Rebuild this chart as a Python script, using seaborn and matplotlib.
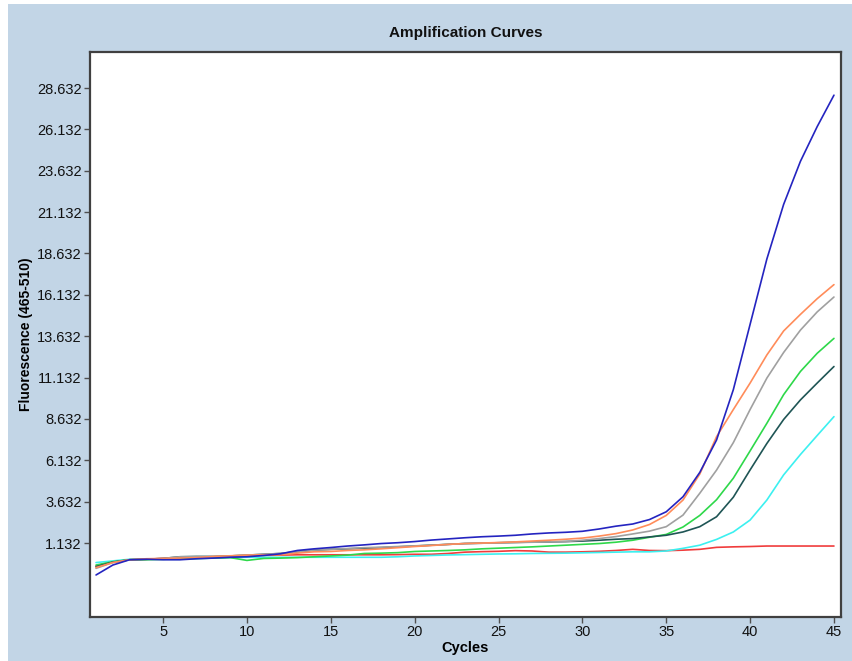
import numpy as np
import pandas as pd
import matplotlib
matplotlib.use("Agg")
import matplotlib.pyplot as plt
import seaborn as sns
from matplotlib.patches import Rectangle
from matplotlib.ticker import FixedLocator

cycles = list(range(1, 46))

blue = [-0.80, -0.20, 0.12, 0.15, 0.12, 0.12, 0.18, 0.22, 0.27, 0.30,
        0.38, 0.48, 0.68, 0.78, 0.86, 0.95, 1.02, 1.10, 1.15, 1.22,
        1.31, 1.38, 1.45, 1.51, 1.55, 1.60, 1.68, 1.74, 1.78, 1.84,
        1.98, 2.15, 2.28, 2.55, 3.02, 3.93, 5.40, 7.36, 10.40, 14.35,
        18.30, 21.60, 24.20, 26.30, 28.20]
orange = [-0.35, -0.05, 0.12, 0.18, 0.20, 0.22, 0.25, 0.32, 0.36, 0.40,
          0.42, 0.42, 0.52, 0.60, 0.62, 0.68, 0.72, 0.78, 0.85, 0.92,
          0.98, 1.05, 1.10, 1.13, 1.16, 1.20, 1.25, 1.30, 1.36, 1.43,
          1.55, 1.70, 1.92, 2.25, 2.80, 3.73, 5.30, 7.56, 9.20, 10.80,
          12.50, 13.95, 14.95, 15.90, 16.75]
gray = [-0.40, -0.05, 0.12, 0.15, 0.20, 0.30, 0.30, 0.30, 0.35, 0.40,
        0.45, 0.50, 0.60, 0.70, 0.75, 0.80, 0.85, 0.88, 0.92, 0.96,
        1.00, 1.05, 1.10, 1.12, 1.14, 1.16, 1.18, 1.20, 1.22, 1.30,
        1.40, 1.52, 1.68, 1.85, 2.12, 2.82, 4.14, 5.54, 7.20, 9.20,
        11.10, 12.65, 14.00, 15.10, 16.00]
darkgreen = [-0.30, -0.02, 0.12, 0.15, 0.20, 0.30, 0.32, 0.32, 0.35, 0.40,
             0.45, 0.50, 0.60, 0.70, 0.75, 0.78, 0.82, 0.85, 0.90, 0.95,
             1.00, 1.05, 1.10, 1.12, 1.15, 1.17, 1.19, 1.20, 1.22, 1.25,
             1.30, 1.36, 1.40, 1.50, 1.60, 1.80, 2.12, 2.72, 3.90, 5.55,
             7.15, 8.60, 9.78, 10.80, 11.80]
green = [-0.20, 0.00, 0.12, 0.12, 0.15, 0.18, 0.20, 0.22, 0.25, 0.08,
         0.20, 0.22, 0.25, 0.30, 0.35, 0.40, 0.50, 0.52, 0.55, 0.62,
         0.65, 0.68, 0.72, 0.78, 0.82, 0.86, 0.90, 0.95, 1.00, 1.05,
         1.10, 1.18, 1.30, 1.48, 1.65, 2.10, 2.80, 3.75, 5.05, 6.70,
         8.37, 10.10, 11.50, 12.60, 13.50]
cyan = [-0.05, 0.05, 0.15, 0.15, 0.15, 0.15, 0.20, 0.22, 0.25, 0.27,
        0.27, 0.27, 0.27, 0.27, 0.27, 0.27, 0.27, 0.27, 0.30, 0.35,
        0.38, 0.41, 0.43, 0.45, 0.47, 0.48, 0.50, 0.51, 0.52, 0.54,
        0.56, 0.58, 0.60, 0.60, 0.65, 0.81, 1.00, 1.35, 1.80, 2.52,
        3.73, 5.25, 6.48, 7.63, 8.77]
red = [-0.25, 0.00, 0.12, 0.15, 0.20, 0.22, 0.25, 0.28, 0.30, 0.35,
       0.38, 0.40, 0.42, 0.42, 0.42, 0.42, 0.42, 0.42, 0.43, 0.45,
       0.45, 0.50, 0.58, 0.61, 0.63, 0.67, 0.65, 0.58, 0.58, 0.60,
       0.63, 0.68, 0.75, 0.68, 0.67, 0.70, 0.75, 0.87, 0.90, 0.92,
       0.95, 0.95, 0.95, 0.95, 0.95]

series = {"red": red, "cyan": cyan, "green": green, "darkgreen": darkgreen,
          "gray": gray, "orange": orange, "blue": blue}
colors = {"red": "#f03c3c", "cyan": "#3cf0f0", "green": "#2ed84a",
          "darkgreen": "#1f5555", "gray": "#a0a0a0", "orange": "#ff8c5a",
          "blue": "#2424c0"}

y_ticks = [1.132, 3.632, 6.132, 8.632, 11.132, 13.632, 16.132, 18.632,
           21.132, 23.632, 26.132, 28.632]
x_ticks = [5, 10, 15, 20, 25, 30, 35, 40, 45]

df = pd.concat([pd.DataFrame({"Cycle": cycles, "Fluorescence": v, "Sample": k})
                for k, v in series.items()], ignore_index=True)

sns.set_style("white")
plt.rcParams["font.family"] = ["Liberation Sans", "DejaVu Sans"]
plt.rcParams["text.color"] = "#000000"
plt.rcParams["axes.labelcolor"] = "#000000"

bg = "#c2d5e6"
fig = plt.figure(figsize=(8.52, 6.61), dpi=100, facecolor=bg)
fig.patches.append(Rectangle((0, 0), 8 / 852, 1, transform=fig.transFigure,
                             facecolor="white", edgecolor="none", zorder=-1))
fig.patches.append(Rectangle((0, 1 - 4 / 661), 1, 4 / 661, transform=fig.transFigure,
                             facecolor="white", edgecolor="none", zorder=-1))
ax = fig.add_axes([90 / 852, 1 - 617 / 661, (841 - 90) / 852, (617 - 52) / 661])
ax.set_facecolor("white")

sns.lineplot(data=df, x="Cycle", y="Fluorescence", hue="Sample",
             hue_order=list(series.keys()), palette=colors, legend=False,
             linewidth=1.2, ax=ax)

ax.set_xlim(0.64, 45.42)
ax.set_ylim(-3.34, 30.81)
ax.set_xticks(x_ticks)
ax.set_xticklabels([str(t) for t in x_ticks])
ax.set_yticks(y_ticks)
ax.set_yticklabels([f"{t:.3f}" for t in y_ticks])
minor = [1.132 + 0.625 * k for k in range(-3, 45)]
minor = [m for m in minor if m <= 28.7]
ax.yaxis.set_minor_locator(FixedLocator(minor))

ax.tick_params(axis="both", which="major", direction="out", length=4,
               width=1, color="#505050", labelsize=10.5, labelcolor="#111111", pad=2)
ax.tick_params(axis="y", which="minor", direction="out", length=3,
               width=1, color="#505050")
ax.tick_params(axis="x", which="major", bottom=True)
ax.tick_params(axis="y", which="major", left=True)

for s in ax.spines.values():
    s.set_visible(True)
    s.set_color("#404040")
    s.set_linewidth(1.6)

ax.set_xlabel("Cycles", fontsize=10.5, fontweight="bold", labelpad=1, color="black")
ax.set_ylabel("Fluorescence (465-510)", fontsize=10, fontweight="bold", labelpad=3,
              color="black")
ax.set_title("Amplification Curves", fontsize=11, fontweight="bold", pad=11,
             color="#111111")

fig.savefig("out.png", dpi=100, facecolor=bg)
